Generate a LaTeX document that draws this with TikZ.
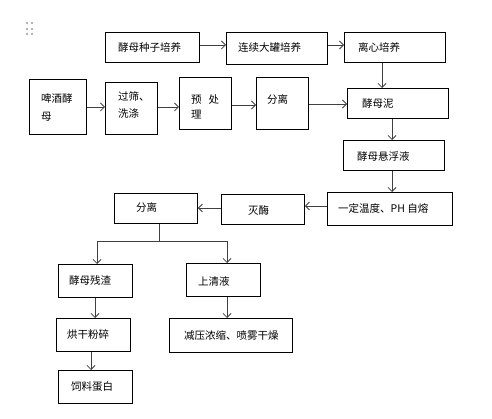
\documentclass[tikz,border=0pt]{standalone}
\usepackage{fontspec}
\setmainfont{Noto Sans CJK SC}
\usetikzlibrary{arrows.meta}
\tikzset{
  box/.style={draw=black,line width=0.9pt,inner sep=0pt,anchor=north west},
  txt/.style={anchor=west,inner sep=0pt,font=\fontsize{10.5}{13}\selectfont,align=left},
  arr/.style={draw=black!75,line width=0.8pt,-{Straight Barb[length=4pt,width=8pt]}},
  ln/.style={draw=black!75,line width=0.8pt}
}
\begin{document}
\begin{tikzpicture}[x=1pt,y=-1pt]
\useasboundingbox (0,0) rectangle (492,419);
% drag handle dots
\foreach \dx in {27,32}{\foreach \dy in {23,29,34}{\fill[black!40] (\dx,\dy) circle (1.2pt);}}
% boxes
\node[box,minimum width=94pt,minimum height=30pt] (seed) at (105,32) {};
\node[box,minimum width=101pt,minimum height=32pt] (lianxu) at (226,32) {};
\node[box,minimum width=101pt,minimum height=30pt] (lixin) at (344,32) {};
\node[box,minimum width=57pt,minimum height=55pt] (pijiu) at (29,79) {};
\node[box,minimum width=52pt,minimum height=52pt] (guoshai) at (105,82) {};
\node[box,minimum width=52pt,minimum height=52pt] (yuchuli) at (179,77) {};
\node[box,minimum width=52pt,minimum height=52pt] (fenli1) at (256,77) {};
\node[box,minimum width=101pt,minimum height=30pt] (ymuni) at (347,88) {};
\node[box,minimum width=101pt,minimum height=30pt] (xuanfu) at (343,140) {};
\node[box,minimum width=125pt,minimum height=33pt] (zirong) at (327,192) {};
\node[box,minimum width=83pt,minimum height=30pt] (mie) at (221,194) {};
\node[box,minimum width=83pt,minimum height=30pt] (fenli2) at (114,193) {};
\node[box,minimum width=74pt,minimum height=33pt] (canzha) at (58,264) {};
\node[box,minimum width=74pt,minimum height=33pt] (qing) at (186,263) {};
\node[box,minimum width=74pt,minimum height=33pt] (honggan) at (56,318) {};
\node[box,minimum width=123pt,minimum height=34pt] (jianya) at (169,318) {};
\node[box,minimum width=74pt,minimum height=33pt] (siliao) at (58,370) {};
% texts
\node[txt] (seed-t) at (118,48) {酵母种子培养};
\node[txt] (lianxu-t) at (238,48) {连续大罐培养};
\node[txt] (lixin-t) at (358,48) {离心培养};
\node[txt,font=\fontsize{10.5}{18}\selectfont] (pijiu-t) at (41,108) {啤酒酵\\母};
\node[txt,font=\fontsize{10.5}{17}\selectfont] (guoshai-t) at (118,104.5) {过筛、\\洗涤};
\node[txt,font=\fontsize{10.5}{15}\selectfont] (yuchuli-t) at (191,106.5) {预\hspace{7pt}处\\理};
\node[txt] (fenli1-t) at (267,99) {分离};
\node[txt] (ymuni-t) at (362,104) {酵母泥};
\node[txt] (xuanfu-t) at (357,157) {酵母悬浮液};
\node[txt] (zirong-t) at (338,208) {一定温度、PH 自熔};
\node[txt] (mie-t) at (248,211) {灭酶};
\node[txt] (fenli2-t) at (136,207) {分离};
\node[txt] (canzha-t) at (69,281) {酵母残渣};
\node[txt] (qing-t) at (198,281) {上清液};
\node[txt] (honggan-t) at (67,335) {烘干粉碎};
\node[txt] (jianya-t) at (184,336) {减压浓缩、喷雾干燥};
\node[txt] (siliao-t) at (71,387) {饲料蛋白};
% connectors
\draw[arr] (seed.east |- 0,45) -- (lianxu.west |- 0,45);
\draw[arr] (lianxu.east |- 0,45) -- (lixin.west |- 0,45);
\draw[arr] (lixin.south -| 382,0) -- (ymuni.north -| 382,0);
\draw[arr] (pijiu.east |- 0,107) -- (guoshai.west |- 0,107);
\draw[arr] (guoshai.east |- 0,107) -- (yuchuli.west |- 0,107);
\draw[arr] (yuchuli.east |- 0,105) -- (fenli1.west |- 0,105);
\draw[arr] (fenli1.east |- 0,104) -- (ymuni.west |- 0,104);
\draw[arr] (ymuni.south -| 392,0) -- (xuanfu.north -| 392,0);
\draw[arr] (xuanfu.south -| 392,0) -- (zirong.north -| 392,0);
\draw[arr] (zirong.west |- 0,206) -- (mie.east |- 0,206);
\draw[arr] (mie.west |- 0,208) -- (fenli2.east |- 0,208);
\coordinate (bj) at (159,241);
\coordinate (bl) at (97,241);
\coordinate (br) at (227,241);
\draw[ln] (fenli2.south -| bj) -- (bj);
\draw[ln] (bl) -- (br);
\draw[arr] (bl) -- (canzha.north -| bl);
\draw[arr] (br) -- (qing.north -| br);
\draw[arr] (canzha.south -| 95,0) -- (honggan.north -| 95,0);
\draw[arr] (qing.south -| 227,0) -- (jianya.north -| 227,0);
\draw[arr] (honggan.south -| 91,0) -- (siliao.north -| 91,0);
\end{tikzpicture}
\end{document}
